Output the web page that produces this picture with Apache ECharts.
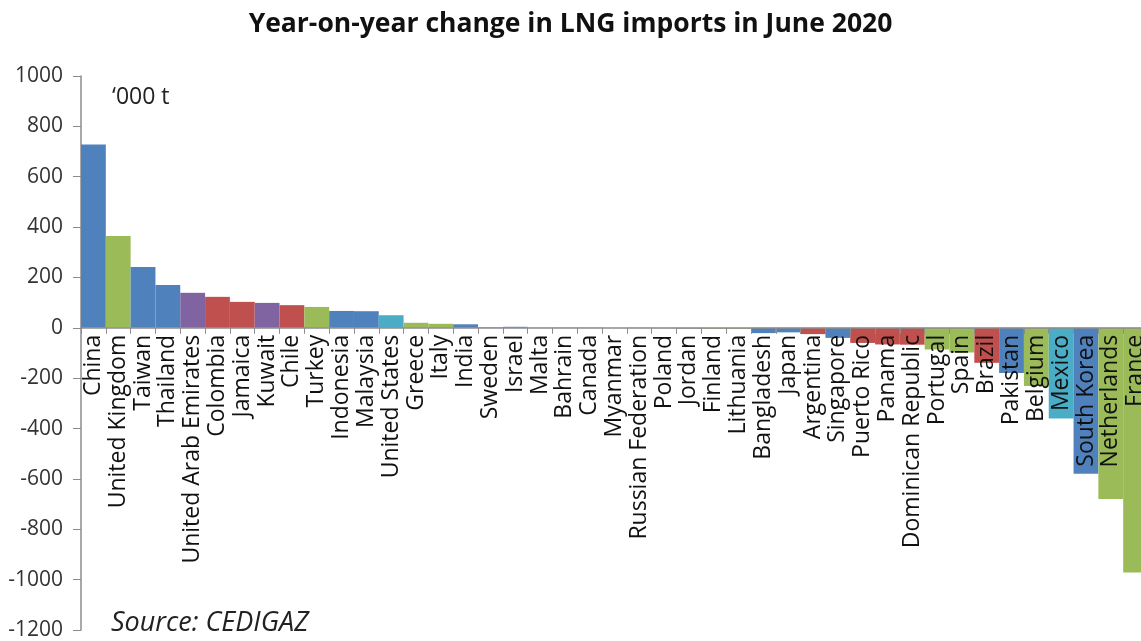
<!DOCTYPE html>
<html>
<head>
<meta charset="utf-8">
<script src="https://cdn.jsdelivr.net/npm/echarts@6/dist/echarts.min.js"></script>
<style>
html,body{margin:0;padding:0;background:#fff;}
#chart{width:1141px;height:641px;}
</style>
</head>
<body>
<div id="chart"></div>
<script>
const categories = ['China','United Kingdom','Taiwan','Thailand','United Arab Emirates','Colombia','Jamaica','Kuwait','Chile','Turkey','Indonesia','Malaysia','United States','Greece','Italy','India','Sweden','Israel','Malta','Bahrain','Canada','Myanmar','Russian Federation','Poland','Jordan','Finland','Lithuania','Bangladesh','Japan','Argentina','Singapore','Puerto Rico','Panama','Dominican Republic','Portugal','Spain','Brazil','Pakistan','Belgium','Mexico','South Korea','Netherlands','France'];
const changes = [728,365,242,170,139,123,103,99,90,83,67,66,50,20,16,14,3,4,1,1,1,0,-1,-2,-3,-4,-4,-21,-18,-25,-40,-60,-66,-67,-86,-98,-139,-179,-231,-360,-580,-680,-972];
const regionGroup = ['B','G','B','B','P','R','R','P','R','G','B','B','C','G','G','B','G','B','G','P','C','B','R','G','P','G','G','B','B','R','B','R','R','R','G','G','R','B','G','C','B','G','G'];
const yTicks = {min:-1200, max:1000, step:200};
const titleText = 'Year-on-year change in LNG imports in June 2020';
const unitText = '\u2018000 t';
const sourceText = 'Source: CEDIGAZ';

const palette = {B:'#4f81bd', G:'#9bbb59', R:'#c0504d', P:'#8064a2', C:'#4bacc6'};
const font = '"Open Sans", sans-serif';

const gridTop = 76, gridHeight = 554;
// move the category axis up to the zero line of the value axis
const zeroOffset = -gridHeight * (0 - yTicks.min) / (yTicks.max - yTicks.min);

const chart = echarts.init(document.getElementById('chart'), null, {renderer:'canvas'});
chart.setOption({
  animation:false,
  backgroundColor:'#ffffff',
  title:[
    {text:titleText, left:'center', top:6, textStyle:{fontFamily:font, fontWeight:'bold', fontSize:26.5, color:'#111'}},
    {text:unitText, left:107, top:81, textStyle:{fontFamily:font, fontWeight:'normal', fontSize:23, color:'#222'}},
    {text:sourceText, left:106, top:605, textStyle:{fontFamily:font, fontStyle:'italic', fontWeight:'normal', fontSize:27, color:'#222'}}
  ],
  grid:{left:81, top:gridTop, width:1067, height:gridHeight, containLabel:false, outerBoundsMode:'none'},
  xAxis:{
    type:'category', data:categories, position:'bottom', offset:zeroOffset, z:10,
    axisLine:{onZero:false, lineStyle:{color:'#8c8c8c', width:1.5}},
    axisTick:{show:true, length:6, lineStyle:{color:'#8c8c8c'}},
    axisLabel:{interval:0, rotate:90, margin:7, fontFamily:font, fontSize:23, color:'#111', hideOverlap:false}
  },
  yAxis:{
    type:'value', min:yTicks.min, max:yTicks.max, interval:yTicks.step,
    axisLine:{show:true, lineStyle:{color:'#8c8c8c', width:1.5}},
    axisTick:{show:true, length:8, lineStyle:{color:'#8c8c8c'}},
    splitLine:{show:false},
    axisLabel:{margin:18, fontFamily:font, fontSize:21, color:'#333', formatter:(v)=>String(v)}
  },
  series:[{
    type:'bar', barCategoryGap:'0%', z:2,
    data:changes.map((v,i)=>({value:v, itemStyle:{color:palette[regionGroup[i]]}}))
  }]
});
</script>
</body>
</html>
